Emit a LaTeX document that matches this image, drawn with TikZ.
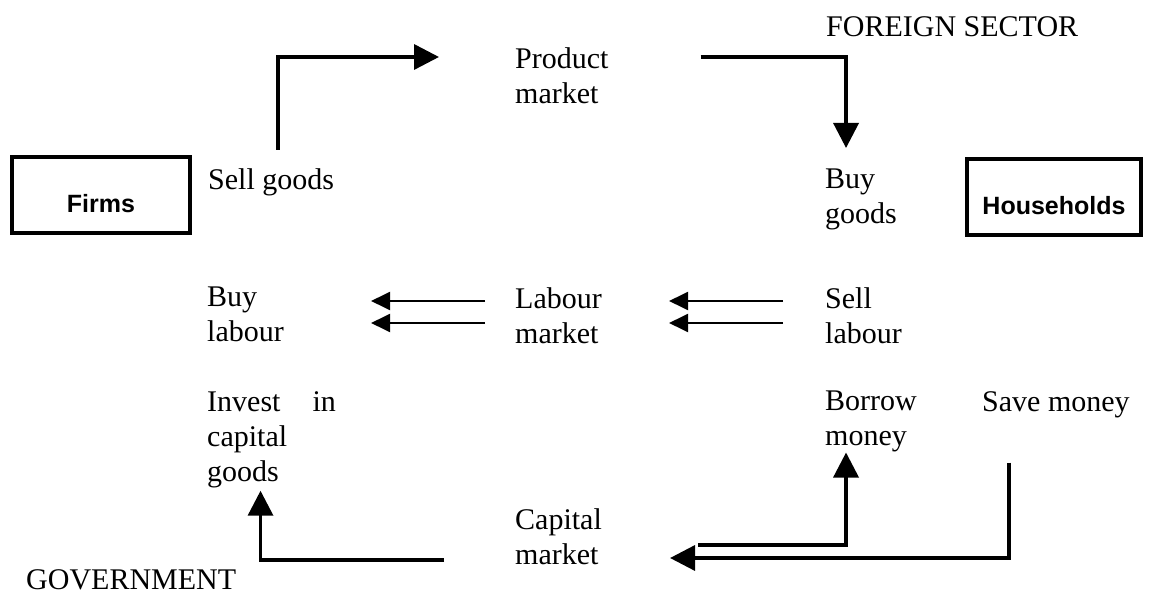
\documentclass[tikz,border=0pt]{standalone}
\usepackage{fontspec}
\setmainfont{Liberation Serif}
\newfontfamily\boxfont{Liberation Sans}
\usetikzlibrary{arrows.meta}
\tikzset{
	txt/.style={anchor=north west, inner sep=0pt, align=left, font=\fontsize{30}{35}\selectfont},
	sector/.style={draw, line width=4.5pt, minimum width=#1, minimum height=76pt, inner sep=0pt, text height=36pt, text depth=0pt, font=\boxfont\bfseries\fontsize{25}{30}\selectfont},
	flow/.style={line width=3.5pt, -{Triangle[length=25pt,width=25pt]}},
	thinflow/.style={line width=2pt, -{Triangle[length=19pt,width=18pt]}}
}
\begin{document}
\begin{tikzpicture}[x=1pt,y=-1pt]
			\useasboundingbox (0,0) rectangle (1149,596);
			\node[sector=178pt] (firms) at (101,195) {Firms};
			\node[sector=174pt] (households) at (1054,197) {Households};
			\node[txt] (foreign) at (826,16) {FOREIGN SECTOR};
			\node[txt] (product) at (515,47) {Product\\market};
			\node[txt] (sellgoods) at (208,168) {Sell goods};
			\node[txt] (buygoods) at (825,169) {Buy\\goods};
			\node[txt] (buylabour) at (207,287) {Buy\\labour};
			\node[txt] (labourmkt) at (515,287) {Labour\\market};
			\node[txt] (selllabour) at (825,287) {Sell\\labour};
			\node[txt] (invest) at (207,391) {Invest\hspace{32pt}in\\capital\\goods};
			\node[txt] (borrow) at (825,391) {Borrow\\money};
			\node[txt] (save) at (982,391) {Save money};
			\node[txt] (capitalmkt) at (515,508) {Capital\\market};
			\node[txt] (government) at (26,569) {GOVERNMENT};
			\draw[flow] ([xshift=7pt,yshift=18pt]sellgoods.north) |- ([xshift=-76pt,yshift=-10pt]product.north west);
			\draw[flow] ([xshift=92pt,yshift=-10pt]product.north east) -| ([xshift=-15pt,yshift=21pt]buygoods.north);
			\foreach \dy in {14,36} {
				\draw[thinflow] ([xshift=-30pt,yshift=-\dy pt]labourmkt.north west) -- ([xshift=87pt,yshift=-\dy pt]buylabour.north east);
				\draw[thinflow] ([xshift=-42pt,yshift=-\dy pt]selllabour.north west) -- ([xshift=67pt,yshift=-\dy pt]labourmkt.north east);
			}
			\draw[flow] ([xshift=-71pt,yshift=-52pt]capitalmkt.north west) -| ([xshift=-11pt,yshift=-3pt]invest.south);
			\draw[flow] ([xshift=96pt,yshift=-37pt]capitalmkt.north east) -| ([xshift=-25pt]borrow.south);
			\draw[flow] ([xshift=-47pt,yshift=-45pt]save.south) |- ([xshift=68pt,yshift=-50pt]capitalmkt.north east);
		\end{tikzpicture}
\end{document}
